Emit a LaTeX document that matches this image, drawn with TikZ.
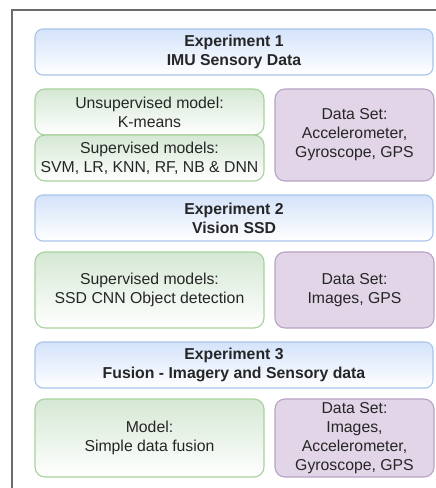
\documentclass[tikz,border=0pt]{standalone}
\usepackage{fontspec}
\setmainfont{Liberation Sans}
\definecolor{hdrfill}{HTML}{D4E3FA}
\definecolor{hdrline}{HTML}{A9C4EB}
\definecolor{mdlfill}{HTML}{D5E8D4}
\definecolor{mdlline}{HTML}{A7D39A}
\definecolor{dsfill}{HTML}{E1D5E7}
\definecolor{dsline}{HTML}{B9A2C6}
\definecolor{frameline}{HTML}{6B6B6B}
\definecolor{txt}{HTML}{262626}
\tikzset{
  x=1pt, y=-1pt,
  boxtext/.style={align=center, text=txt, font=\fontsize{15.8}{19}\selectfont},
  header/.style={draw=hdrline, line width=1.1pt, rounded corners=8pt,
    top color=hdrfill, bottom color=white},
  modelbox/.style={draw=mdlline, line width=1.1pt, rounded corners=10pt,
    top color=mdlfill, bottom color=white},
  databox/.style={draw=dsline, line width=1.1pt, rounded corners=10pt,
    fill=dsfill},
}
\begin{document}
\begin{tikzpicture}
\useasboundingbox (0,0) rectangle (436,488);
\fill[white] (0,0) rectangle (436,488);
% outer frame, open to the right and bottom
\draw[frameline, line width=1.8pt] (12,488) -- (12,10) -- (436,10);

% Experiment 1
\draw[header] (35,29) rectangle (433,75);
\node[boxtext, font=\fontsize{15.8}{19}\selectfont\bfseries] (e1) at (234,52) {Experiment 1\\IMU Sensory Data};
\draw[modelbox] (35,89) rectangle (264,135);
\node[boxtext] (m1a) at (149.5,112) {Unsupervised model:\\K-means};
\draw[modelbox] (35,135) rectangle (264,181);
\node[boxtext] (m1b) at (149.5,158) {Supervised models:\\SVM, LR, KNN, RF, NB \& DNN};
\draw[databox] (275,89) rectangle (434,181);
\node[boxtext] (d1) at (354.5,135) {Data Set:\\Accelerometer,\\Gyroscope, GPS};

% Experiment 2
\draw[header] (35,195) rectangle (433,241);
\node[boxtext, font=\fontsize{15.8}{19}\selectfont\bfseries] (e2) at (234,218) {Experiment 2\\Vision SSD};
\draw[modelbox] (35,252) rectangle (264,328);
\node[boxtext] (m2) at (149.5,290) {Supervised models:\\SSD CNN Object detection};
\draw[databox] (275,252) rectangle (434,328);
\node[boxtext] (d2) at (354.5,290) {Data Set:\\Images, GPS};

% Experiment 3
\draw[header] (35,342) rectangle (433,388);
\node[boxtext, font=\fontsize{15.8}{19}\selectfont\bfseries] (e3) at (234,365) {Experiment 3\\Fusion - Imagery and Sensory data};
\draw[modelbox] (35,399) rectangle (264,477);
\node[boxtext] (m3) at (149.5,438) {Model:\\Simple data fusion};
\draw[databox] (275,399) rectangle (434,477);
\node[boxtext] (d3) at (354.5,438) {Data Set:\\Images,\\Accelerometer,\\Gyroscope, GPS};
\end{tikzpicture}
\end{document}
